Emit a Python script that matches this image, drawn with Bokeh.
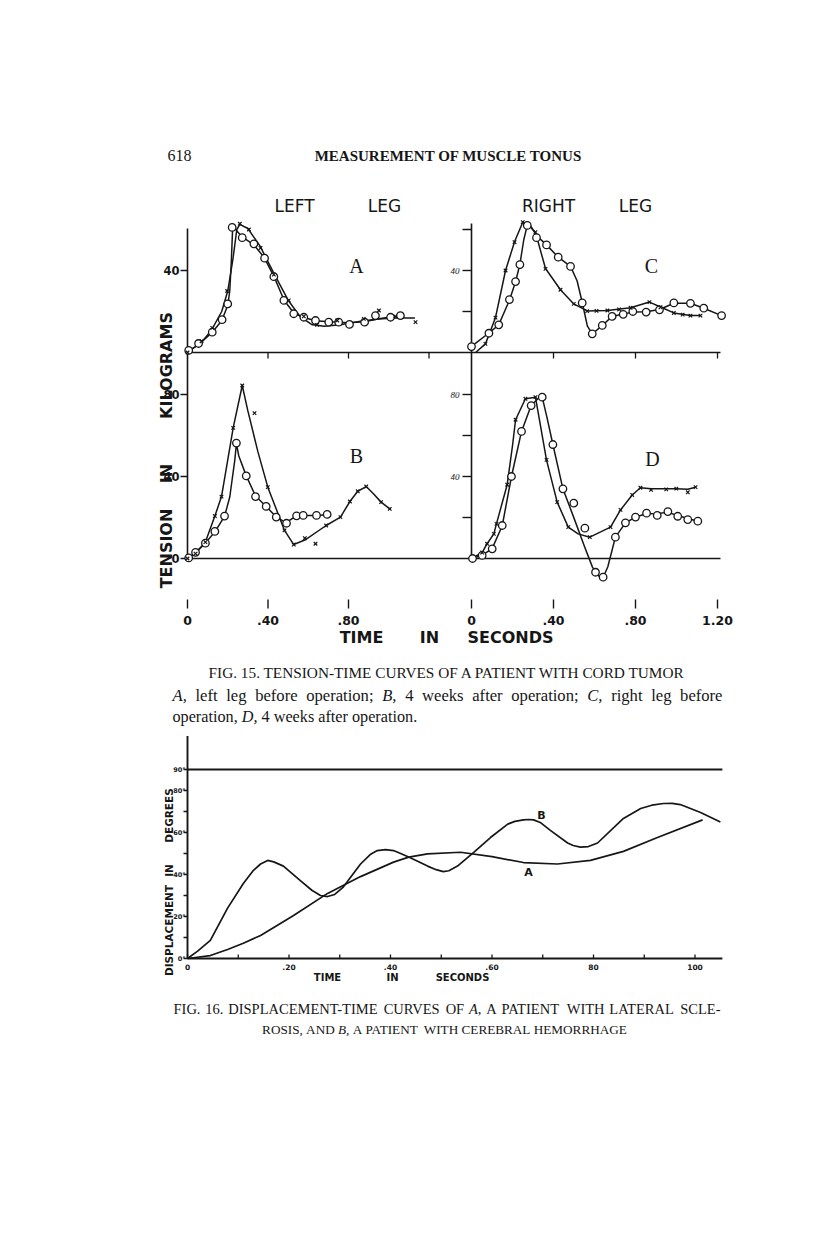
import numpy as np
from bokeh.plotting import figure
from bokeh.models import Range1d
from bokeh.embed import file_html
from bokeh.resources import INLINE
from bokeh.core.properties import value

INK = "#161616"
SERIF = "Liberation Serif"
SANS = "DejaVu Sans"

# ---------------------------------------------------------------- data
# Fig. 15 - tension (kg) against time (s); "o" = circles, "x" = crosses
# marker readings (t, v) and the hand-drawn curve through them (ct, cv)
A_O_T = [0.006, 0.055, 0.123, 0.172, 0.2, 0.222, 0.272, 0.33, 0.383, 0.429, 0.479, 0.528, 0.578, 0.636, 0.702, 0.751, 0.805, 0.88, 0.934, 1.009, 1.058]
A_O_V = [1, 4.4, 9.9, 16, 23.7, 61, 56, 53, 46, 37, 25.4, 18.9, 17.2, 15.6, 14.8, 14.8, 13.7, 14.8, 18, 17.2, 18]
A_O_CT = [0, 0.05, 0.12, 0.17, 0.2, 0.21, 0.218, 0.224, 0.235, 0.27, 0.33, 0.38, 0.43, 0.48, 0.53, 0.58, 0.64, 0.7, 0.8, 0.88, 0.95, 1.01, 1.06]
A_O_CV = [0.5, 3.5, 9.5, 15.5, 23, 30, 45, 60, 60.5, 56.5, 52.5, 46.5, 37, 25.5, 19, 17, 15.5, 15, 14.5, 15, 16.5, 17.3, 17.8]
A_X_T = [0, 0.07, 0.123, 0.197, 0.26, 0.305, 0.363, 0.429, 0.503, 0.578, 0.644, 0.744, 0.876, 0.951, 1.033, 1.133]
A_X_V = [0, 5.5, 12, 30, 62.8, 60, 51, 38, 25.4, 17.6, 13.5, 15.6, 16.4, 20.5, 17.6, 14.8]
A_X_CT = [0, 0.07, 0.12, 0.17, 0.2, 0.225, 0.245, 0.26, 0.3, 0.36, 0.43, 0.5, 0.56, 0.62, 0.68, 0.76, 0.86, 0.95, 1.03, 1.13]
A_X_CV = [0, 5, 11, 20, 30, 45, 60, 62.5, 60.5, 52, 38.5, 25.5, 17.5, 13.5, 12.8, 13.5, 15.3, 16.3, 16.8, 16.8]

B_O_T = [0.006, 0.04, 0.089, 0.136, 0.184, 0.243, 0.292, 0.338, 0.391, 0.441, 0.492, 0.542, 0.575, 0.641, 0.694]
B_O_V = [0.3, 3, 7.5, 13.2, 20.7, 56.3, 40.3, 30.2, 25.4, 20.2, 17.2, 20.8, 21, 21, 21.5]
B_O_CT = [0, 0.04, 0.089, 0.136, 0.184, 0.21, 0.235, 0.243, 0.255, 0.292, 0.338, 0.391, 0.441, 0.49, 0.52, 0.542, 0.575, 0.641, 0.694]
B_O_CV = [0, 3, 7.5, 13, 20.5, 30, 48, 56, 50, 40.3, 30.5, 25.4, 20.2, 17.5, 19.5, 20.8, 21, 21, 21.3]
B_X_T = [0, 0.04, 0.089, 0.136, 0.169, 0.227, 0.272, 0.333, 0.399, 0.482, 0.528, 0.583, 0.636, 0.689, 0.76, 0.807, 0.846, 0.888, 0.962, 1.005]
B_X_V = [0, 2.4, 8, 20.7, 30.2, 63.7, 84.4, 70.9, 34.8, 13.7, 6.8, 9.9, 7.2, 16.1, 20.2, 27.8, 32.8, 35.1, 27.5, 24.2]
B_X_CT = [0, 0.04, 0.089, 0.136, 0.169, 0.227, 0.272, 0.3, 0.35, 0.399, 0.482, 0.528, 0.583, 0.689, 0.76, 0.807, 0.846, 0.888, 0.925, 0.962, 1.005]
B_X_CV = [0, 2.4, 8, 20.7, 30.2, 63.7, 84.4, 72, 52, 34.8, 13.7, 6.8, 9, 16.1, 20.2, 27.8, 32.8, 35.1, 31.5, 27.5, 24.2]

C_O_T = [0, 0.085, 0.133, 0.185, 0.215, 0.236, 0.272, 0.317, 0.366, 0.423, 0.483, 0.54, 0.589, 0.638, 0.686, 0.74, 0.787, 0.852, 0.917, 0.987, 1.068, 1.133, 1.22]
C_O_V = [2.9, 9.4, 13.5, 25.8, 34.6, 42.9, 62, 56, 52.5, 46.5, 42, 24.2, 9.1, 13.2, 17.6, 18.6, 20, 19.7, 20.8, 24.2, 24, 21.6, 18]
C_O_CT = [0, 0.085, 0.133, 0.185, 0.215, 0.236, 0.255, 0.272, 0.29, 0.317, 0.366, 0.423, 0.483, 0.515, 0.54, 0.565, 0.589, 0.638, 0.686, 0.74, 0.787, 0.852, 0.917, 0.987, 1.068, 1.133, 1.22]
C_O_CV = [3, 9.5, 13.5, 25.5, 34.5, 43, 55, 62, 61.5, 57, 52.5, 46.5, 42, 35, 24.5, 13, 9, 13.2, 17.6, 18.8, 19.7, 19.9, 21, 24, 24, 21.6, 18]
C_X_T = [0.068, 0.117, 0.166, 0.21, 0.25, 0.312, 0.361, 0.434, 0.499, 0.564, 0.61, 0.663, 0.72, 0.776, 0.868, 0.922, 0.987, 1.03, 1.068, 1.117]
C_X_V = [4.2, 17, 40, 53.8, 63.6, 58.7, 40.8, 30.6, 23.7, 20.2, 20.3, 20.5, 21, 21.8, 24.6, 22.1, 19.3, 18.5, 18, 18]
C_X_CT = [0.02, 0.068, 0.117, 0.166, 0.21, 0.25, 0.28, 0.312, 0.361, 0.434, 0.499, 0.564, 0.663, 0.776, 0.868, 0.922, 0.987, 1.068, 1.117]
C_X_CV = [0, 4.2, 17, 40, 54, 63.5, 62, 58.5, 41, 30.6, 23.7, 20.3, 20.5, 21.8, 24.6, 22.2, 19.3, 18, 18]

D_O_T = [0.005, 0.052, 0.101, 0.15, 0.195, 0.244, 0.291, 0.345, 0.397, 0.446, 0.499, 0.553, 0.605, 0.642, 0.702, 0.751, 0.8, 0.854, 0.906, 0.958, 1.006, 1.055, 1.104]
D_O_V = [0, 1.5, 4.7, 16.1, 40, 62, 74.6, 78.7, 55.6, 34, 27, 14.8, -6.7, -9.1, 10.4, 17.4, 20.2, 22.1, 21, 22.9, 20.6, 19, 18.2]
D_O_CT = [0, 0.05, 0.1, 0.15, 0.195, 0.244, 0.291, 0.33, 0.345, 0.37, 0.397, 0.446, 0.5, 0.553, 0.59, 0.62, 0.642, 0.665, 0.702, 0.751, 0.8, 0.854, 0.906, 0.958, 1.006, 1.055, 1.104]
D_O_CV = [0, 1.5, 4.7, 16, 40, 62, 74.6, 78.5, 78.7, 68, 55.6, 34, 19.7, 5.4, -4.2, -8.5, -9.3, -4, 10.4, 17.4, 20.2, 21.8, 22, 22.5, 21, 19.5, 18.2]
D_X_T = [0.052, 0.076, 0.109, 0.122, 0.174, 0.215, 0.263, 0.312, 0.366, 0.418, 0.472, 0.577, 0.678, 0.727, 0.784, 0.824, 0.876, 0.95, 0.999, 1.055, 1.093]
D_X_V = [2.9, 7.2, 12, 16.9, 36, 67.7, 77.9, 78.7, 48.1, 27.5, 15.3, 10.4, 15.3, 23.7, 31, 34.5, 33.5, 33.7, 34.1, 32.3, 34.8]
D_X_CT = [0, 0.052, 0.076, 0.109, 0.122, 0.174, 0.2, 0.215, 0.263, 0.312, 0.366, 0.418, 0.472, 0.52, 0.577, 0.678, 0.727, 0.784, 0.824, 0.876, 0.95, 0.999, 1.055, 1.093]
D_X_CV = [0, 2.9, 7.2, 12, 17, 36, 55, 67.7, 77.9, 78.7, 48, 27.5, 15.3, 12, 10.4, 15.3, 23.7, 31, 34.5, 34, 34, 34, 33.8, 34.8]

# Fig. 15 scale ticks and labels
MID_TICKS = [0.4, 0.8, 1.2]
TIME_TICKS_L = [0, 0.4, 0.8]
TIME_LABELS_L = ["0", ".40", ".80"]
TIME_TICKS_R = [0, 0.4, 0.8, 1.2]
TIME_LABELS_R = ["0", ".40", ".80", "1.20"]
A_YTICKS, A_YLABELS = [40], ["40"]
B_YTICKS, B_YLABELS = [0, 40, 80], ["0", "40", "80"]
C_YTICKS = [20, 40, 60]
C_YLABEL_AT, C_YLABELS = [40], ["40"]
D_YTICKS = [20, 40, 60, 80]
D_YLABEL_AT, D_YLABELS = [80, 40], ["80", "40"]

# Fig. 16 - displacement (degrees) against time (s)
F16_A_T = [0, 0.045, 0.079, 0.11, 0.144, 0.209, 0.276, 0.341, 0.406, 0.436, 0.473, 0.538, 0.6, 0.662, 0.729, 0.794, 0.859, 0.926, 1.015]
F16_A_D = [0, 1.4, 4.3, 7.3, 11, 20.5, 31, 39, 45.9, 48.3, 49.8, 50.6, 48.5, 45.7, 45, 46.7, 51, 57.6, 66]
F16_B_T = [0, 0.02, 0.045, 0.079, 0.11, 0.13, 0.144, 0.158, 0.17, 0.189, 0.223, 0.245, 0.262, 0.276, 0.29, 0.307, 0.341, 0.36, 0.374, 0.39, 0.406, 0.42, 0.439, 0.473, 0.49, 0.504, 0.515, 0.532, 0.564, 0.597, 0.631, 0.645, 0.662, 0.672, 0.682, 0.695, 0.715, 0.749, 0.76, 0.774, 0.79, 0.808, 0.859, 0.893, 0.915, 0.938, 0.955, 0.971, 1.011, 1.05]
F16_B_D = [0, 3.5, 8.6, 24, 35.7, 42, 45, 46.7, 46, 44, 37, 32.5, 30, 29.5, 30.5, 34, 45, 49.5, 51.4, 51.8, 51.4, 50, 48, 44, 42.3, 41.4, 41.8, 44, 50.5, 57.6, 64, 65.3, 66, 66.2, 66, 64.8, 61, 55, 53.8, 53, 53.3, 55, 66.7, 71.4, 73, 73.8, 73.9, 73.3, 69.5, 65]
F16_REF_LINE = 90
F16_XMAX, F16_YMAX = 1.054, 106
F16_XTICKS = [0, 0.2, 0.4, 0.6, 0.8, 1.0]
F16_XLABELS = ["0", ".20", ".40", ".60", "80", "100"]
F16_XMINOR = [0.1, 0.3, 0.5, 0.7, 0.9]
F16_YTICKS = [0, 20, 40, 60, 80, 90]
F16_YLABELS = ["0°", "20°", "40°", "60°", "80°", "90°"]
F16_YMINOR = [10, 30, 50, 70]

# ---------------------------------------------------------------- layout constants (page px)
W, H = 816, 1238
L_X0, R_X0, FRAME_R = 187, 471, 720
L_PPU, R_PPU = 201.25, 205.0
T_Y0, B_Y0, V_PPU = 352, 558, 2.05
AX_TOP_L, AX_TOP_R, AX_BOT = 228, 223, 560
G_X0, G_Y0 = 187, 958
G_XPPU, G_YPPU = 507.5, 2.1

# Times / Liberation Serif advance widths (1/1000 em) for caption setting
TR = {" ": 250, ",": 250, ";": 278, ".": 250, "-": 333}
TR.update({d: 500 for d in "0123456789"})
TR.update(dict(zip("ABCDEFGHIJKLMNOPQRSTUVWXYZ",
                   [722, 667, 667, 722, 611, 556, 722, 722, 333, 389, 722, 611, 889, 722, 722,
                    556, 722, 667, 556, 611, 722, 722, 944, 722, 722, 611])))
TR.update(dict(zip("abcdefghijklmnopqrstuvwxyz",
                   [444, 500, 444, 500, 444, 333, 500, 500, 278, 278, 500, 278, 778, 500, 500,
                    500, 500, 333, 389, 278, 500, 500, 722, 500, 500, 444])))
TI = {"A": 611, "B": 611, "C": 667, "D": 722}


def xrange_for(origin, ppu):
    return Range1d((0 - origin) / ppu, (W - origin) / ppu)


def yrange_for(origin, ppu):
    return Range1d((origin - H) / ppu, (origin - 0) / ppu)


p = figure(width=W, height=H, title=None,
           x_range=Range1d(0, W), y_range=Range1d(H, 0),
           x_axis_type=None, y_axis_type=None, toolbar_location=None,
           output_backend="svg", min_border=0, outline_line_color=None)
p.min_border_left = p.min_border_right = p.min_border_top = p.min_border_bottom = 0
p.background_fill_color = "white"
p.border_fill_color = "white"
p.extra_x_ranges = {"tL": xrange_for(L_X0, L_PPU), "tR": xrange_for(R_X0, R_PPU),
                    "s16": xrange_for(G_X0, G_XPPU)}
p.extra_y_ranges = {"vT": yrange_for(T_Y0, V_PPU), "vB": yrange_for(B_Y0, V_PPU),
                    "d16": yrange_for(G_Y0, G_YPPU)}


def ptext(xs, ys, texts, size, font=SANS, style="normal", align="center",
          angle=0.0, xr="default", yr="default", x_off=0, color=INK):
    p.text(x=xs, y=ys, text=texts, x_range_name=xr, y_range_name=yr,
           text_font=value(font), text_font_size=size, text_font_style=style,
           text_align=align, text_baseline="middle", angle=angle, x_offset=x_off,
           text_color=color)


def tok_width(tok, size, italic):
    return sum((TI.get(c, TR[c]) if italic else TR[c]) for c in tok) * size / 1000.0


def set_line(tokens, y, size, x0=None, x1=None, center=None, italics=()):
    """Set a caption line word by word (justified when both x0 and x1 are given)."""
    widths = [tok_width(t, size, t in italics) for t in tokens]
    natural_gap = TR[" "] * size / 1000.0
    total = sum(widths) + natural_gap * (len(tokens) - 1)
    if center is not None:
        x0 = center - total / 2
        gap = natural_gap
    elif x1 is not None:
        gap = (x1 - x0 - sum(widths)) / (len(tokens) - 1)
    else:
        gap = natural_gap
    xs, x = [], x0
    for w in widths:
        xs.append(x)
        x += w + gap
    for italic in (False, True):
        sel = [i for i, t in enumerate(tokens) if (t in italics) == italic]
        if sel:
            ptext([xs[i] for i in sel], [y] * len(sel), [tokens[i] for i in sel],
                  "%.1fpx" % size, font=SERIF, style="italic" if italic else "normal",
                  align="left")


# ================= Fig. 15
p.segment(x0=[L_X0, R_X0, L_X0, L_X0], y0=[AX_TOP_L, AX_TOP_R, T_Y0, B_Y0],
          x1=[L_X0, R_X0, FRAME_R, FRAME_R], y1=[AX_BOT, AX_BOT, T_Y0, B_Y0],
          line_color=INK, line_width=1.6)

for xn in ("tL", "tR"):
    n = len(MID_TICKS)
    p.segment(x0=MID_TICKS, x1=MID_TICKS, y0=[0] * n, y1=[-6 / V_PPU] * n,
              x_range_name=xn, y_range_name="vT", line_color=INK, line_width=1.3)

for xn, yn, ppu, ticks, tlen in (("tL", "vT", L_PPU, A_YTICKS, 7), ("tL", "vB", L_PPU, B_YTICKS, 7),
                                 ("tR", "vT", R_PPU, C_YTICKS, 9), ("tR", "vB", R_PPU, D_YTICKS, 9)):
    n = len(ticks)
    p.segment(x0=[0] * n, x1=[-tlen / ppu] * n, y0=ticks, y1=ticks,
              x_range_name=xn, y_range_name=yn, line_color=INK, line_width=1.4)
ptext([0] * len(A_YTICKS), A_YTICKS, A_YLABELS, "11.5px", style="bold", align="right",
      xr="tL", yr="vT", x_off=-8)
ptext([0] * len(B_YTICKS), B_YTICKS, B_YLABELS, "11.5px", style="bold", align="right",
      xr="tL", yr="vB", x_off=-8)
ptext([0] * len(C_YLABEL_AT), C_YLABEL_AT, C_YLABELS, "9px", font=SERIF, style="italic",
      align="right", xr="tR", yr="vT", x_off=-12)
ptext([0] * len(D_YLABEL_AT), D_YLABEL_AT, D_YLABELS, "9px", font=SERIF, style="italic",
      align="right", xr="tR", yr="vB", x_off=-12)

panels = [
    ("tL", "vT", A_O_CT, A_O_CV, A_O_T, A_O_V, A_X_CT, A_X_CV, A_X_T, A_X_V),
    ("tL", "vB", B_O_CT, B_O_CV, B_O_T, B_O_V, B_X_CT, B_X_CV, B_X_T, B_X_V),
    ("tR", "vT", C_O_CT, C_O_CV, C_O_T, C_O_V, C_X_CT, C_X_CV, C_X_T, C_X_V),
    ("tR", "vB", D_O_CT, D_O_CV, D_O_T, D_O_V, D_X_CT, D_X_CV, D_X_T, D_X_V),
]
for xn, yn, oct_, ocv, ot, ov, xct, xcv, xt, xv in panels:
    p.line(oct_, ocv, x_range_name=xn, y_range_name=yn, line_color=INK, line_width=1.5,
           line_join="round")
    p.line(xct, xcv, x_range_name=xn, y_range_name=yn, line_color=INK, line_width=1.5,
           line_join="round")
    p.scatter(ot, ov, x_range_name=xn, y_range_name=yn, marker="circle", size=7.5,
              fill_color="white", line_color=INK, line_width=1.3)
    p.scatter(xt, xv, x_range_name=xn, y_range_name=yn, marker="x", size=5,
              line_color=INK, line_width=1.2)

for xn, ticks, labels in (("tL", TIME_TICKS_L, TIME_LABELS_L), ("tR", TIME_TICKS_R, TIME_LABELS_R)):
    n = len(ticks)
    p.segment(x0=ticks, x1=ticks, y0=[599] * n, y1=[608] * n, x_range_name=xn,
              line_color=INK, line_width=1.4)
    ptext(ticks, [620] * n, labels, "12.5px", style="bold", xr=xn)

ptext([179], [155], ["618"], "16px", font=SERIF)
ptext([448], [155], ["MEASUREMENT OF MUSCLE TONUS"], "15px", font=SERIF, style="bold")
ptext([294, 384, 548, 635], [205, 205, 205, 205], ["LEFT", "LEG", "RIGHT", "LEG"], "17px")
ptext([166, 166, 166], [548, 473, 365], ["TENSION", "IN", "KILOGRAMS"], "16px",
      style="bold", angle=np.pi / 2)
ptext([356, 356, 651, 652], [265, 455, 265, 458], ["A", "B", "C", "D"], "20px", font=SERIF)
ptext([361, 429, 510], [637, 637, 637], ["TIME", "IN", "SECONDS"], "16px", style="bold")
ptext([447], [672], ["FIG. 15. TENSION-TIME CURVES OF A PATIENT WITH CORD TUMOR"],
      "15.3px", font=SERIF)
set_line(["A,", "left", "leg", "before", "operation;", "B,", "4", "weeks", "after",
          "operation;", "C,", "right", "leg", "before"], 695, 16.6, x0=172, x1=722,
         italics=("A,", "B,", "C,"))
set_line(["operation,", "D,", "4", "weeks", "after", "operation."], 716, 16.2, x0=172,
         italics=("D,",))

# ================= Fig. 16
p.segment(x0=[0, 0, 0], y0=[0, 0, F16_REF_LINE], x1=[0, F16_XMAX, F16_XMAX],
          y1=[F16_YMAX, 0, F16_REF_LINE], x_range_name="s16", y_range_name="d16",
          line_color=INK, line_width=1.9)
xt_all = F16_XTICKS + F16_XMINOR
p.segment(x0=xt_all, x1=xt_all, y0=[0] * len(xt_all), y1=[4 / G_YPPU] * len(xt_all),
          x_range_name="s16", y_range_name="d16", line_color=INK, line_width=1.3)
yt_all = F16_YTICKS + F16_YMINOR
p.segment(x0=[0] * len(yt_all), x1=[-4 / G_XPPU] * len(yt_all), y0=yt_all, y1=yt_all,
          x_range_name="s16", y_range_name="d16", line_color=INK, line_width=1.3)
ptext(F16_XTICKS, [966] * len(F16_XTICKS), F16_XLABELS, "7.5px", style="bold", xr="s16")
ptext([0] * len(F16_YTICKS), F16_YTICKS, F16_YLABELS, "6.5px", style="bold", align="right",
      xr="s16", yr="d16", x_off=-2)

p.line(F16_A_T, F16_A_D, x_range_name="s16", y_range_name="d16", line_color=INK,
       line_width=1.7, line_join="round")
p.line(F16_B_T, F16_B_D, x_range_name="s16", y_range_name="d16", line_color=INK,
       line_width=1.7, line_join="round")
ptext([541, 528], [815, 872], ["B", "A"], "11px", style="bold")

ptext([168, 168, 168], [930, 870, 815], ["DISPLACEMENT", "IN", "DEGREES"], "10.5px",
      style="bold", angle=np.pi / 2)
ptext([327, 392, 462], [977, 977, 977], ["TIME", "IN", "SECONDS"], "10px", style="bold")
set_line(["FIG.", "16.", "DISPLACEMENT-TIME", "CURVES", "OF", "A,", "A", "PATIENT", "WITH",
          "LATERAL", "SCLE-"], 1008, 14.5, x0=173, x1=720, italics=("A,",))
set_line(["ROSIS,", "AND", "B,", "A", "PATIENT", "WITH", "CEREBRAL", "HEMORRHAGE"], 1029, 13.2,
         center=444, italics=("B,",))

open("out.html", "w").write(file_html(p, INLINE, "Measurement of muscle tonus"))
